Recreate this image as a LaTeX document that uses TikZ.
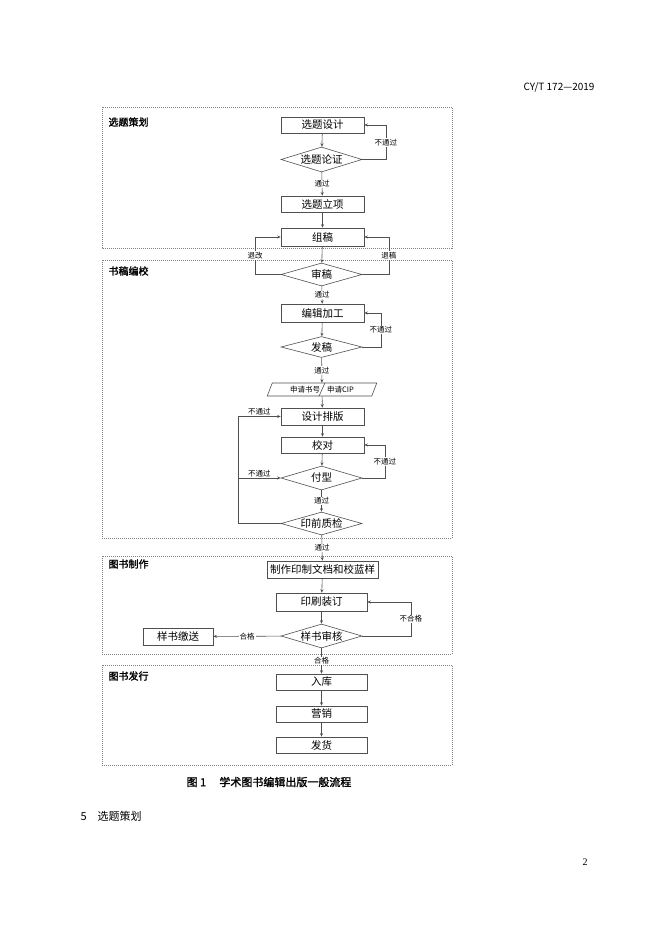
\documentclass[tikz,border=0pt]{standalone}
\usepackage{fontspec}
\setmainfont{Noto Sans CJK SC}
\newfontfamily\serifnum{Liberation Serif}
\newfontfamily\boldcjk[FakeBold=1.5]{Noto Sans CJK SC}
\usepackage{tikz}
\usetikzlibrary{shapes.geometric, arrows.meta, positioning, calc}
\definecolor{flowline}{RGB}{80,80,80}
\definecolor{stagegray}{RGB}{130,130,130}

\begin{document}
\begin{tikzpicture}[x=1pt, y=-1pt,
  proc/.style={rectangle, draw=flowline, line width=0.6pt, minimum width=83pt,
               minimum height=17pt, inner sep=0pt, align=center,
               font=\fontsize{10.5}{12}\selectfont},
  dec/.style={diamond, draw=flowline, line width=0.6pt, aspect=3.4, inner sep=0pt,
              minimum width=81pt, minimum height=24pt,
              font=\fontsize{10.5}{12}\selectfont},
  io/.style={trapezium, trapezium left angle=65, trapezium right angle=115,
             trapezium stretches=true, draw=flowline, line width=0.6pt,
             minimum width=110pt, minimum height=13pt, inner sep=0pt,
             font=\fontsize{7.5}{9}\selectfont},
  stage/.style={draw=stagegray, line width=0.5pt, dash pattern=on 1pt off 1pt},
  stagelabel/.style={anchor=west, font=\boldcjk\fontsize{10}{12}\selectfont},
  tag/.style={fill=white, inner sep=1pt, font=\fontsize{7.5}{9}\selectfont},
  arr/.style={draw=flowline, line width=0.6pt, -{Stealth[length=3.5pt, width=3pt]}}
]
\useasboundingbox (0,0) rectangle (662,936);

% Page header
\node[anchor=east, font=\fontsize{10}{12}\selectfont] (hdr) at (598,87) {CY/T 172—2019};

% Stages
\draw[stage] (102,107) rectangle (452,248);
\node[stagelabel] (s1) at (105,122) {选题策划};
\draw[stage] (102,260) rectangle (452,538);
\node[stagelabel] (s2) at (105,271) {书稿编校};
\draw[stage] (102,556) rectangle (452,654);
\node[stagelabel] (s3) at (105,564) {图书制作};
\draw[stage] (102,665) rectangle (452,765);
\node[stagelabel] (s4) at (105,676) {图书发行};

% Steps
\node[proc, minimum height=16pt] (design)  at (322.5,125)   {选题设计};
\node[dec, minimum height=25pt]  (argue)   at (321.5,159.5) {选题论证};
\node[proc, minimum height=16pt] (approve) at (322.5,204)   {选题立项};
\node[proc, minimum height=18pt] (collect) at (322.5,237)   {组稿};
\node[dec, minimum height=23pt]  (review)  at (321.5,274.5) {审稿};
\node[proc, minimum height=18pt] (edit)    at (322.5,313)   {编辑加工};
\node[dec, minimum height=21pt]  (release) at (321.5,347)   {发稿};
\node[io] (cip) at (322,389.5) {申请书号\hspace{7pt}申请CIP};
\node[proc] (layout)  at (322.5,416.5) {设计排版};
\node[proc, minimum height=16pt] (proof)   at (322.5,445) {校对};
\node[dec]                       (plate)   at (321.5,478) {付型};
\node[dec, minimum height=23pt]  (prepress) at (321.5,523.5) {印前质检};
\node[proc, minimum width=111pt] (printdoc) at (322.5,569.5) {制作印制文档和校蓝样};
\node[proc, minimum width=91pt, minimum height=18pt] (bind) at (321.5,602) {印刷装订};
\node[dec]                       (sample)  at (321.5,636) {样书审核};
\node[proc, minimum width=70pt]  (deposit) at (178,636.5) {样书缴送};
\node[proc, minimum width=91pt, minimum height=16pt] (store)  at (321.5,682) {入库};
\node[proc, minimum width=91pt, minimum height=16pt] (market) at (321.5,714) {营销};
\node[proc, minimum width=91pt, minimum height=16pt] (ship)   at (321.5,745) {发货};

% divider of the CIP box
\draw[draw=flowline, line width=0.6pt] ($(cip.south)+(-3,0)$) -- ($(cip.north)+(3,0)$);

% Main flow
\draw[arr] (design) -- (argue);
\draw[arr] (argue) -- node[tag] {通过} (approve);
\draw[arr] (approve) -- (collect);
\draw[arr] (collect) -- (review);
\draw[arr] (review) -- node[tag] {通过} (edit);
\draw[arr] (edit) -- (release);
\draw[arr] (release) -- node[tag] {通过} (cip);
\draw[arr] (cip) -- (layout);
\draw[arr] (layout) -- (proof);
\draw[arr] (proof) -- (plate);
\draw[arr] (plate) -- node[tag] {通过} (prepress);
\draw[arr] (prepress) -- node[tag] {通过} (printdoc);
\draw[arr] (printdoc) -- (bind);
\draw[arr] (bind) -- (sample);
\draw[arr] (sample) -- node[tag] {合格} (store);
\draw[arr] (store) -- (market);
\draw[arr] (market) -- (ship);
\draw[arr] (sample) -- node[tag] {合格} (deposit);

% Loops back
\draw[arr] (argue.east) -- ++(23.5,0) |- node[pos=0.25, tag] {不通过} (design.east);
\draw[arr] (review.west) -- ++(-25.5,0) |- node[pos=0.25, tag] {退改} (collect.west);
\draw[arr] (review.east) -- ++(26.5,0) |- node[pos=0.25, tag] {退稿} (collect.east);
\draw[arr] (release.east) -- ++(18.5,0) |- node[pos=0.25, tag] {不通过} (edit.east);
\draw[arr] (plate.east) -- ++(22.5,0) |- node[pos=0.25, tag] {不通过} (proof.east);
\draw[arr] (sample.east) -- ++(48.5,0) |- node[pos=0.25, tag] {不合格} (bind.east);
\coordinate (back) at (238,478);
\draw[arr] (prepress.west) -- (prepress.west -| back) |- node[pos=0.75, above, inner sep=1pt, font=\fontsize{7.5}{9}\selectfont] {不通过} (layout.west);
\draw[arr] (back) -- node[above, inner sep=1pt, font=\fontsize{7.5}{9}\selectfont] {不通过} (plate.west);

% Caption and text below
\node[font=\boldcjk\fontsize{11}{13}\selectfont] (cap) at (269,782) {图 1\hspace{1.2em}学术图书编辑出版一般流程};
\node[anchor=west, font=\fontsize{11}{13}\selectfont] (sec) at (77,816) {5\hspace{1em}选题策划};
\node[font=\serifnum\fontsize{10}{12}\selectfont] (pg) at (585,862) {2};
\end{tikzpicture}
\end{document}
